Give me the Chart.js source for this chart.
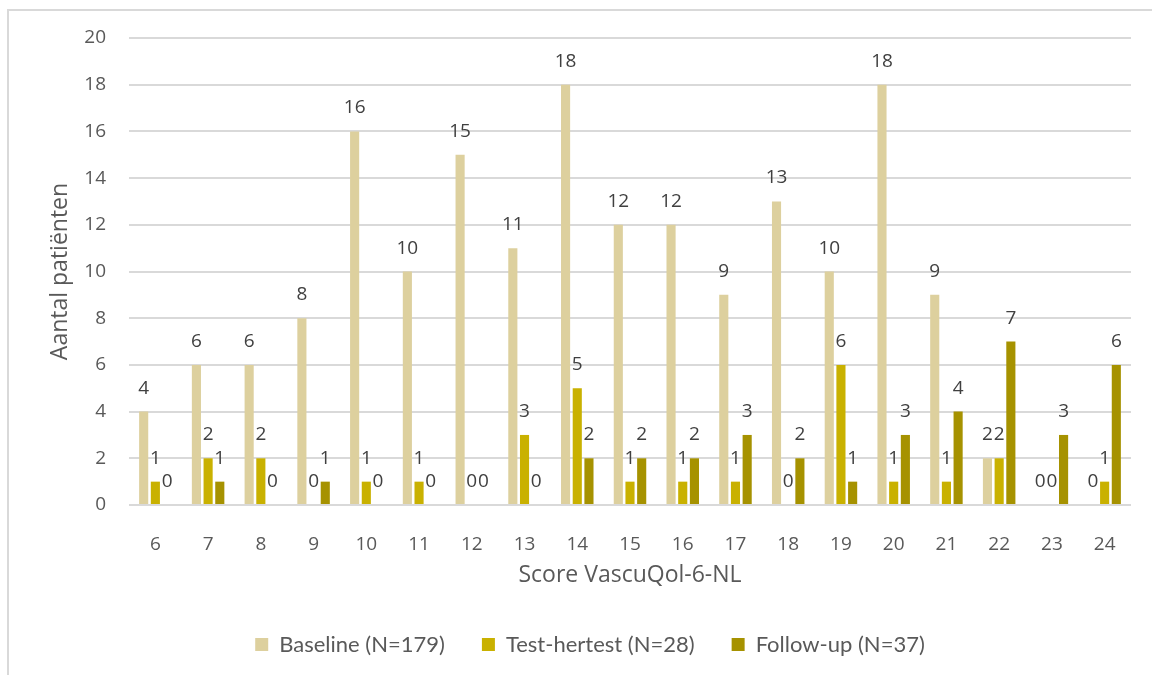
<!DOCTYPE html>
<html>
<head>
<meta charset="utf-8">
<title>Score VascuQol-6-NL</title>
<script src="https://cdn.jsdelivr.net/npm/chart.js@4.4.1/dist/chart.umd.min.js"></script>
<style>
  html, body { margin: 0; padding: 0; background: #fff; overflow: hidden; }
  canvas { display: block; }
</style>
</head>
<body>
<canvas id="score-chart" width="1180" height="675"></canvas>
<script>
// Score categories on the x axis
const scores = ['6', '7', '8', '9', '10', '11', '12', '13', '14', '15', '16', '17', '18', '19', '20', '21', '22', '23', '24'];

// Number of patients per score
const baseline    = [4, 6, 6, 8, 16, 10, 15, 11, 18, 12, 12, 9, 13, 10, 18, 9, 2, 0, 0];
const testRetest  = [1, 2, 2, 0, 1, 1, 0, 3, 5, 1, 1, 1, 0, 6, 1, 1, 2, 0, 1];
const followUp    = [0, 1, 0, 1, 0, 0, 0, 0, 2, 2, 2, 3, 2, 1, 3, 4, 7, 3, 6];

const seriesNames = ['Baseline (N=179)', 'Test-hertest (N=28)', 'Follow-up (N=37)'];
const seriesColors = ['#DDD09E', '#C9B100', '#A69200'];

// y axis range
const yMin = 0;
const yMax = 20;
const yStep = 2;

const textColor = '#595959';
const gridColor = '#D9D9D9';

Chart.defaults.font.family = '"Open Sans", sans-serif';
Chart.defaults.color = textColor;

// light grey frame round the whole chart
const chartFrame = {
    id: 'chartFrame',
    beforeDraw(chart) {
        const ctx = chart.ctx;
        ctx.save();
        ctx.fillStyle = '#ffffff';
        ctx.fillRect(0, 0, chart.width, chart.height);
        ctx.strokeStyle = gridColor;
        ctx.lineWidth = 2;
        ctx.strokeRect(8, 10, chart.width + 20, chart.height + 20);
        ctx.restore();
    }
};

// value printed above every bar (zeros included)
const barValueLabels = {
    id: 'barValueLabels',
    afterDatasetsDraw(chart) {
        const ctx = chart.ctx;
        ctx.save();
        ctx.font = '19px "Open Sans", sans-serif';
        ctx.fillStyle = '#404040';
        ctx.textAlign = 'center';
        ctx.textBaseline = 'alphabetic';
        chart.data.datasets.forEach((ds, i) => {
            const meta = chart.getDatasetMeta(i);
            meta.data.forEach((bar, j) => {
                ctx.fillText(String(ds.data[j]), bar.x, bar.y - 18);
            });
        });
        ctx.restore();
    }
};

const datasets = [baseline, testRetest, followUp].map((values, i) => ({
    label: seriesNames[i],
    data: values,
    backgroundColor: seriesColors[i],
    borderWidth: 0,
    yAxisID: 'y',
    barPercentage: 0.78,
    categoryPercentage: 0.665
}));

const ctx = document.getElementById('score-chart').getContext('2d');
const scoreChart = new Chart(ctx, {
    type: 'bar',
    data: {
        labels: scores,
        datasets: datasets
    },
    options: {
        responsive: false,
        animation: false,
        layout: {
            padding: { top: 38, bottom: 9.5, left: 0, right: 0 }
        },
        scales: {
            x: {
                grid: { display: false },
                border: { display: false },
                ticks: {
                    padding: 20,
                    font: { size: 19 },
                    color: textColor
                },
                title: {
                    display: true,
                    text: 'Score VascuQol-6-NL',
                    font: { size: 23 },
                    color: textColor,
                    padding: { top: 0, bottom: 7 }
                },
                afterFit(scale) {
                    scale.height = 91.5;
                }
            },
            y: {
                min: yMin,
                max: yMax,
                grid: {
                    color: gridColor,
                    lineWidth: 2,
                    drawTicks: false
                },
                border: { display: false },
                ticks: {
                    stepSize: yStep,
                    padding: 23,
                    font: { size: 19 },
                    color: textColor
                },
                title: {
                    display: true,
                    text: 'Aantal patiënten',
                    font: { size: 23 },
                    color: textColor,
                    padding: { top: 47, bottom: 0 }
                },
                afterFit(scale) {
                    scale.width = 129;
                }
            },
            // empty axis on the right, keeps the plot narrower than the legend row
            yRight: {
                position: 'right',
                grid: { display: false },
                border: { display: false },
                ticks: { display: false },
                afterFit(scale) {
                    scale.width = 49;
                }
            }
        },
        plugins: {
            legend: {
                position: 'bottom',
                labels: {
                    boxWidth: 13,
                    boxHeight: 13,
                    padding: 37,
                    color: textColor,
                    font: { family: 'Lato, "Open Sans", sans-serif', size: 22 }
                }
            },
            tooltip: { enabled: false }
        }
    },
    plugins: [chartFrame, barValueLabels]
});
</script>
</body>
</html>
